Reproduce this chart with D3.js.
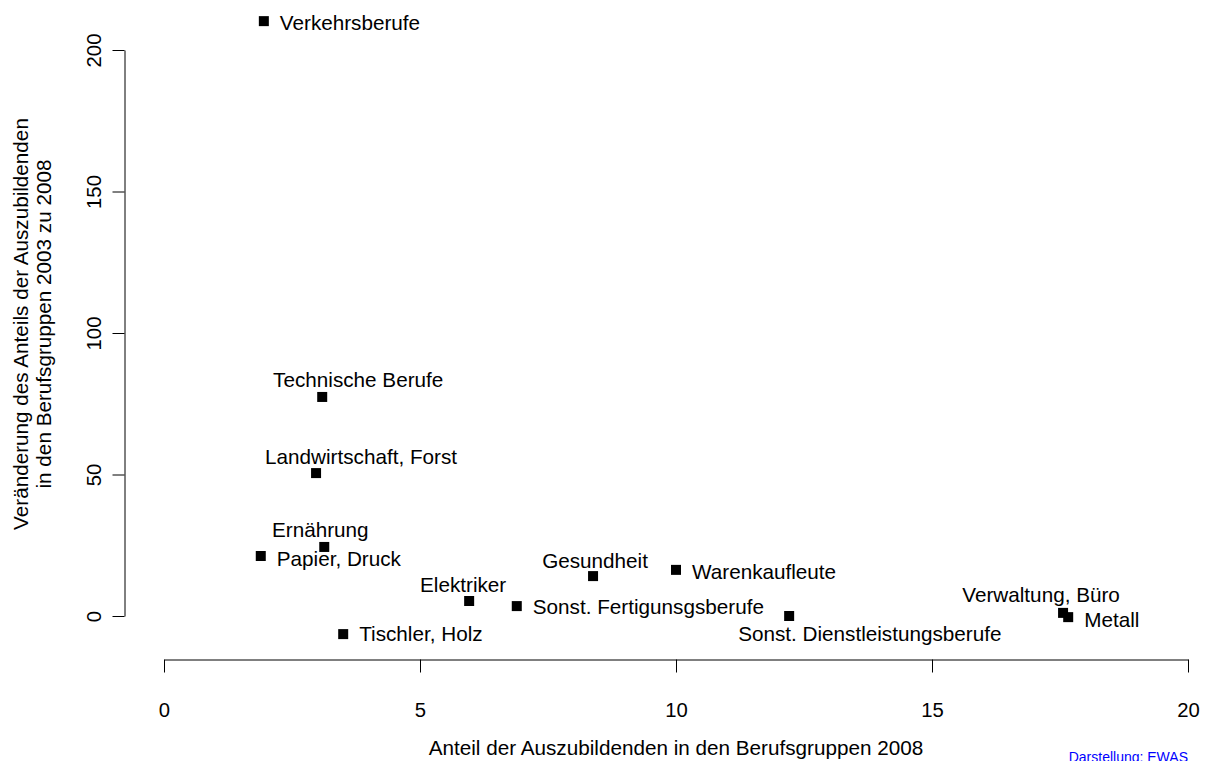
<!DOCTYPE html>
<html>
<head>
<meta charset="utf-8">
<script src="https://cdn.jsdelivr.net/npm/d3@7"></script>
<style>
  body { margin: 0; background: #fff; }
  svg { display: block; font-family: "Liberation Sans", Arial, Helvetica, sans-serif; }
</style>
</head>
<body>
<div id="chart"></div>
<script>
// data
const berufe = [
  "Verkehrsberufe", "Technische Berufe", "Landwirtschaft, Forst", "Ernährung",
  "Papier, Druck", "Tischler, Holz", "Elektriker", "Sonst. Fertigunsgsberufe",
  "Gesundheit", "Warenkaufleute", "Sonst. Dienstleistungsberufe",
  "Verwaltung, Büro", "Metall"
];
const anteil2008 = [1.95, 3.09, 2.97, 3.13, 1.89, 3.50, 5.96, 6.89, 8.38, 10.0, 12.21, 17.56, 17.66];
const veraenderung = [210.2, 77.4, 50.5, 24.4, 21.2, -6.4, 5.3, 3.5, 14.1, 16.3, 0.0, 1.1, -0.4];
const xTicks = [0, 5, 10, 15, 20];
const yTicks = [0, 50, 100, 150, 200];

// where each label sits relative to its point (pixels), like text(..., pos=)
const labelPos = [
  {anchor: "start",  dx: 16,  dy: 9},
  {anchor: "middle", dx: 36,  dy: -10},
  {anchor: "middle", dx: 45,  dy: -9},
  {anchor: "middle", dx: -4,  dy: -10},
  {anchor: "start",  dx: 16,  dy: 10},
  {anchor: "start",  dx: 16,  dy: 7},
  {anchor: "middle", dx: -6,  dy: -9},
  {anchor: "start",  dx: 16,  dy: 8},
  {anchor: "middle", dx: 2,   dy: -8},
  {anchor: "start",  dx: 16,  dy: 9},
  {anchor: "start",  dx: -51, dy: 25},
  {anchor: "middle", dx: -22, dy: -11},
  {anchor: "start",  dx: 16,  dy: 10}
];

const width = 1207, height = 761;
const fontSize = 20.7;
const tickFont = 20.3;

const svg = d3.select("#chart").append("svg")
  .attr("width", width)
  .attr("height", height);

const x = d3.scaleLinear().domain([0, 20]).range([164, 1188]);
const y = d3.scaleLinear().domain([0, 200]).range([616, 50]);

// x axis
const xAxis = svg.append("g")
  .attr("transform", "translate(0,659.5)")
  .call(d3.axisBottom(x).tickValues(xTicks).tickSize(13).tickSizeOuter(0).tickPadding(30));
xAxis.selectAll("text").attr("font-size", tickFont).attr("font-family", null).attr("fill", "#000");

// y axis, labels rotated like R's las=0
const yAxis = svg.append("g")
  .attr("transform", "translate(124.5,0)")
  .call(d3.axisLeft(y).tickValues(yTicks).tickSize(12).tickSizeOuter(0));
yAxis.selectAll("text")
  .attr("transform", "rotate(-90)")
  .attr("x", 0).attr("y", -24).attr("dy", null)
  .attr("text-anchor", "middle")
  .attr("font-size", tickFont).attr("font-family", null).attr("fill", "#000");

svg.selectAll(".domain, .tick line").attr("stroke", "#000").attr("stroke-width", 1);

// points
const pts = berufe.map((b, i) => ({name: b, x: anteil2008[i], y: veraenderung[i], lp: labelPos[i]}));
const size = 10;
svg.append("g").selectAll("rect")
  .data(pts)
  .enter().append("rect")
  .attr("x", d => x(d.x) - size / 2)
  .attr("y", d => y(d.y) - size / 2)
  .attr("width", size)
  .attr("height", size)
  .attr("fill", "#000");

svg.append("g").selectAll("text")
  .data(pts)
  .enter().append("text")
  .attr("x", d => x(d.x) + d.lp.dx)
  .attr("y", d => y(d.y) + d.lp.dy)
  .attr("text-anchor", d => d.lp.anchor)
  .attr("font-size", fontSize)
  .attr("fill", "#000")
  .text(d => d.name);

// axis titles
svg.append("text")
  .attr("x", 676).attr("y", 755)
  .attr("text-anchor", "middle")
  .attr("font-size", fontSize)
  .text("Anteil der Auszubildenden in den Berufsgruppen 2008");

const yTitle = svg.append("text")
  .attr("transform", "translate(0,324) rotate(-90)")
  .attr("text-anchor", "middle")
  .attr("font-size", fontSize);
yTitle.append("tspan").attr("x", 0).attr("y", 28).text("Veränderung des Anteils der Auszubildenden");
yTitle.append("tspan").attr("x", 0).attr("y", 51).text("in den Berufsgruppen 2003 zu 2008");

svg.append("text")
  .attr("x", 1188).attr("y", 762)
  .attr("text-anchor", "end")
  .attr("font-size", 14)
  .attr("fill", "#0000ff")
  .text("Darstellung: EWAS");
</script>
</body>
</html>
